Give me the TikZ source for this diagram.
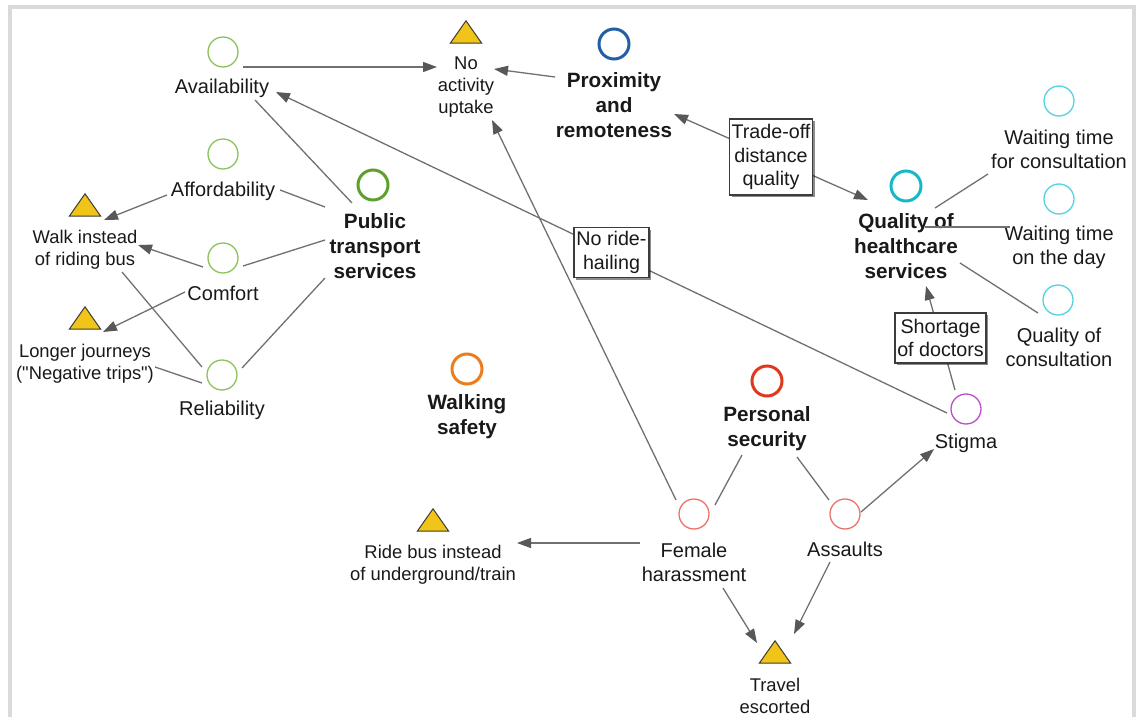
\documentclass[tikz,border=0pt]{standalone}
\usepackage{fontspec}
\setmainfont{Liberation Sans}[Ligatures=TeXOff]
\usetikzlibrary{arrows.meta,shadows}

\definecolor{edgegray}{RGB}{112,112,112}
\definecolor{tipgray}{RGB}{88,88,88}
\definecolor{framegray}{RGB}{218,218,218}
\definecolor{warnfill}{RGB}{240,196,25}
\definecolor{warnline}{RGB}{60,60,50}
\definecolor{ink}{RGB}{25,25,25}
\definecolor{ptlight}{RGB}{140,195,90}
\definecolor{ptdark}{RGB}{95,160,45}
\definecolor{proxblue}{RGB}{35,95,165}
\definecolor{hcdark}{RGB}{20,185,200}
\definecolor{hclight}{RGB}{85,210,225}
\definecolor{stigpurple}{RGB}{185,80,200}
\definecolor{secred}{RGB}{225,55,30}
\definecolor{seclight}{RGB}{235,115,105}
\definecolor{walkorange}{RGB}{235,125,30}

\tikzset{
  factor/.style={circle, draw=#1, line width=1.3pt, minimum size=30pt, inner sep=0pt},
  theme/.style={circle, draw=#1, line width=3pt, minimum size=30pt, inner sep=0pt},
  lbl/.style={align=center, inner sep=0pt, text=ink, font=\fontsize{20}{24}\selectfont},
  ttl/.style={align=center, inner sep=0pt, text=ink, font=\fontsize{20.7}{25}\selectfont\bfseries},
  wlbl/.style={align=center, inner sep=0pt, text=ink, font=\fontsize{18.4}{21.8}\selectfont},
  warn/.style={minimum width=31pt, minimum height=22pt, inner sep=0pt},
  warnmark/.style={fill=warnfill, draw=warnline, line width=1pt, line join=miter},
  note/.style={draw=ink!85, fill=white, line width=1.2pt, inner sep=0pt, align=center,
    text=ink, font=\fontsize{19.7}{23.5}\selectfont,
    drop shadow={shadow xshift=2pt, shadow yshift=-2pt, fill=black, opacity=0.45}},
  link/.style={draw=edgegray, line width=1.3pt},
  cause/.style={link, -{Triangle[length=14pt,width=10pt,color=tipgray]}},
  both/.style={link, {Triangle[length=14pt,width=10pt,color=tipgray]}-{Triangle[length=14pt,width=10pt,color=tipgray]}},
}

\begin{document}
\begin{tikzpicture}[x=1pt, y=-1pt]
\path[use as bounding box] (0,0) rectangle (1136,717);
\draw[framegray, line width=4pt, line join=miter] (10,722) -- (10,7.5) -- (1134,7.5) -- (1134,722);

% public transport cluster
\node[factor=ptlight] (cAvail) at (223,52) {};
\node[lbl] (lAvail) at (222,88) {Availability};
\node[factor=ptlight] (cAfford) at (223,154) {};
\node[lbl] (lAfford) at (223,191) {Affordability};
\node[factor=ptlight] (cComfort) at (223,258) {};
\node[lbl] (lComfort) at (223,293) {Comfort};
\node[factor=ptlight] (cRel) at (222,375) {};
\node[lbl] (lRel) at (222,410) {Reliability};
\node[theme=ptdark] (cPT) at (373,185) {};
\node[ttl] (lPT) at (375,246) {Public\\transport\\services};

% proximity
\node[theme=proxblue] (cProx) at (614,44) {};
\node[ttl] (lProx) at (614,105) {Proximity\\and\\remoteness};

% healthcare cluster
\node[theme=hcdark] (cQH) at (906,186) {};
\node[ttl] (lQH) at (906,246) {Quality of\\healthcare\\services};
\node[factor=hclight] (cWT1) at (1059,101) {};
\node[lbl] (lWT1) at (1059,149) {Waiting time\\for consultation};
\node[factor=hclight] (cWT2) at (1059,199) {};
\node[lbl] (lWT2) at (1059,247) {Waiting time\\on the day};
\node[factor=hclight] (cQC) at (1058,300) {};
\node[lbl] (lQC) at (1059,347) {Quality of\\consultation};
\node[factor=stigpurple] (cStig) at (966,409) {};
\node[lbl] (lStig) at (966,443) {Stigma};

% security and walking
\node[theme=secred] (cPS) at (767,381) {};
\node[ttl] (lPS) at (767,429) {Personal\\security};
\node[theme=walkorange] (cWS) at (467,369) {};
\node[ttl] (lWS) at (467,417) {Walking\\safety};
\node[factor=seclight] (cFem) at (694,514) {};
\node[lbl] (lFem) at (694,562) {Female\\harassment};
\node[factor=seclight] (cAss) at (845,514) {};
\node[lbl] (lAss) at (845,549) {Assaults};

% behavioural outcomes
\node[warn] (tWalk) at (85,205) {};
\node[wlbl] (lWalk) at (85,250) {Walk instead\\of riding bus};
\node[warn] (tLonger) at (85,318) {};
\node[wlbl] (lLonger) at (85,364) {Longer journeys\\("Negative trips")};
\node[warn] (tNoAct) at (466,32) {};
\node[wlbl] (lNoAct) at (466,87) {No\\activity\\uptake};
\node[warn] (tRide) at (433,520) {};
\node[wlbl] (lRide) at (433,565) {Ride bus instead\\of underground/train};
\node[warn] (tTravel) at (775,652) {};
\node[wlbl] (lTravel) at (775,696) {Travel\\escorted};
\foreach \t in {tWalk,tLonger,tNoAct,tRide,tTravel}
  \filldraw[warnmark] (\t.south west) -- (\t.south east) -- (\t.north) -- cycle;

% links
\draw[cause] ([shift={(20,15)}]cAvail.center) -- ([shift={(-29,-20)}]lNoAct.center);
\draw[cause] ([shift={(-59,-28)}]lProx.center) -- ([shift={(28,-18)}]lNoAct.center);
\draw[cause] ([shift={(-18,-14)}]cFem.center) -- ([shift={(26,33)}]lNoAct.center);
\draw[cause] ([shift={(16,-2)}]cAss.center) -- ([shift={(-32,6)}]lStig.center);
\draw[link] ([shift={(21,-9)}]cFem.center) -- ([shift={(-25,26)}]lPS.center);
\draw[link] ([shift={(30,28)}]lPS.center) -- ([shift={(-16,-14)}]cAss.center);
\draw[cause] ([shift={(-54,-19)}]lFem.center) -- ([shift={(84,-22)}]lRide.center);
\draw[cause] ([shift={(29,26)}]lFem.center) -- ([shift={(-18,-9)}]tTravel.center);
\draw[cause] ([shift={(-15,13)}]lAss.center) -- ([shift={(19,-18)}]tTravel.center);
\draw[link] ([shift={(-23,-43)}]lPT.center) -- ([shift={(33,12)}]lAvail.center);
\draw[link] ([shift={(-50,-39)}]lPT.center) -- ([shift={(57,-1)}]lAfford.center);
\draw[link] ([shift={(-50,-6)}]lPT.center) -- ([shift={(20,8)}]cComfort.center);
\draw[link] ([shift={(-50,32)}]lPT.center) -- ([shift={(20,-7)}]cRel.center);
\draw[cause] ([shift={(-56,4)}]lAfford.center) -- ([shift={(19,-30)}]lWalk.center);
\draw[cause] ([shift={(-20,9)}]cComfort.center) -- ([shift={(53,-5)}]lWalk.center);
\draw[cause] ([shift={(-38,-1)}]lComfort.center) -- ([shift={(18,-32)}]lLonger.center);
\draw[link] ([shift={(37,22)}]lWalk.center) -- ([shift={(-20,-8)}]cRel.center);
\draw[link] ([shift={(70,3)}]lLonger.center) -- ([shift={(-20,8)}]cRel.center);
\draw[link] ([shift={(29,22)}]cQH.center) -- ([shift={(-71,25)}]lWT1.center);
\draw[link] ([shift={(19,-19)}]lQH.center) -- ([shift={(-49,-20)}]lWT2.center);
\draw[link] ([shift={(54,17)}]lQH.center) -- ([shift={(-20,13)}]cQC.center);

% labelled links
\draw[cause] ([shift={(-19,4)}]cStig.center)
  -- node[note, minimum width=75pt, minimum height=50pt] (bRide) {No ride-\\hailing}
  ([shift={(54,4)}]lAvail.center);
\draw[both] ([shift={(60,9)}]lProx.center)
  -- node[note, minimum width=83pt, minimum height=76pt] (bTrade) {Trade-off\\distance\\quality}
  ([shift={(-38,14)}]cQH.center);
\draw[cause] ([shift={(-11,-19)}]cStig.center)
  -- node[note, minimum width=91pt, minimum height=50pt] (bShort) {Shortage\\of doctors}
  ([shift={(20,40)}]lQH.center);
\end{tikzpicture}
\end{document}
